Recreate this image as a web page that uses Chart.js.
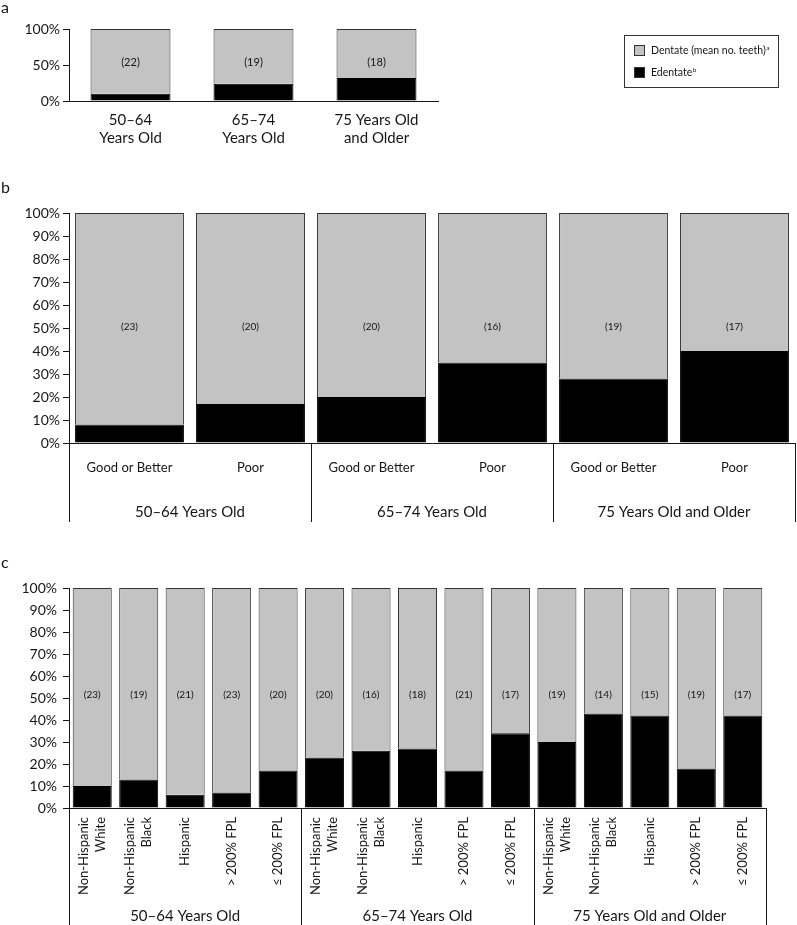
<!DOCTYPE html>
<html>
<head>
<meta charset="utf-8">
<script src="https://cdn.jsdelivr.net/npm/chart.js@4.4.1/dist/chart.umd.min.js"></script>
<style>
  body { margin: 0; background: #fff; }
  .panel { position: absolute; left: 0; }
</style>
</head>
<body>
<div class="panel" style="top:0"><canvas id="chart-a" width="797" height="160"></canvas></div>
<div class="panel" style="top:170px"><canvas id="chart-b" width="797" height="360"></canvas></div>
<div class="panel" style="top:530px"><canvas id="chart-c" width="797" height="395"></canvas></div>
<script>
// --- data ---
const ageGroups = ['50–64 Years Old', '65–74 Years Old', '75 Years Old and Older'];
const legendLabels = ['Dentate (mean no. teeth)', 'Edentate'];
const legendNotes = ['a', 'b'];

// panel a: by age
const ageLabelsA = [['50–64', 'Years Old'], ['65–74', 'Years Old'], ['75 Years Old', 'and Older']];
const edentateA = [10, 24, 32];
const dentateA = [90, 76, 68];
const teethA = [22, 19, 18];

// panel b: by self-rated health within age group
const healthLabels = ['Good or Better', 'Poor'];
const edentateB = [8, 17, 20, 35, 28, 40];
const dentateB = [92, 83, 80, 65, 72, 60];
const teethB = [23, 20, 20, 16, 19, 17];

// panel c: by race/ethnicity and income within age group
const groupLabelsC = [['Non-Hispanic', 'White'], ['Non-Hispanic', 'Black'], ['Hispanic'], ['> 200% FPL'], ['≤ 200% FPL']];
const edentateC = [10, 13, 6, 7, 17, 23, 26, 27, 17, 34, 30, 43, 42, 18, 42];
const dentateC = [90, 87, 94, 93, 83, 77, 74, 73, 83, 66, 70, 57, 58, 82, 58];
const teethC = [23, 19, 21, 23, 20, 20, 16, 18, 21, 17, 19, 14, 15, 19, 17];

const FONT = 'Lato, "Open Sans", sans-serif';
const ink = '#161616';
const gray = '#c3c3c3';
const edge = '#333333';

function datasets(edentate, dentate) {
    return [
        { label: legendLabels[1], data: edentate, backgroundColor: '#000', borderColor: '#000', borderWidth: 1 },
        { label: legendLabels[0], data: dentate, backgroundColor: gray, borderColor: edge, borderWidth: 1 }
    ];
}

function baseOptions(p) {
    return {
        responsive: false,
        animation: false,
        events: [],
        layout: { padding: { left: 0, top: p.top, right: p.right, bottom: 0 } },
        plugins: { legend: { display: false }, tooltip: { enabled: false } },
        datasets: { bar: { categoryPercentage: 1, barPercentage: p.bar } },
        scales: {
            x: {
                stacked: true,
                ticks: { display: false },
                grid: { display: false },
                border: { display: true, color: ink, width: 1 },
                afterFit: s => { s.height = p.xHeight; }
            },
            y: {
                stacked: true,
                min: 0, max: 100,
                ticks: { stepSize: p.step, padding: p.tickPad, color: ink, font: { family: FONT, size: 14 }, callback: v => v + '%' },
                grid: { drawOnChartArea: false, drawTicks: true, tickLength: 6, color: ink },
                border: { display: true, color: ink, width: 1 },
                afterFit: s => { s.width = 69; }
            }
        }
    };
}

function drawTeeth(chart, teeth, at, size) {
    const ctx = chart.ctx, x = chart.scales.x, y = chart.scales.y;
    ctx.font = size + 'px ' + FONT;
    ctx.textAlign = 'center';
    ctx.textBaseline = 'middle';
    teeth.forEach((t, i) => ctx.fillText('(' + t + ')', x.getPixelForValue(i), y.getPixelForValue(at)));
}

function drawLetter(ctx, letter, y) {
    ctx.font = '16px ' + FONT;
    ctx.textAlign = 'left';
    ctx.textBaseline = 'alphabetic';
    ctx.fillText(letter, 1, y);
}

// vertical separators and group names under the axis
function drawGroups(chart, perGroup, lineBottom, textY) {
    const ctx = chart.ctx, x = chart.scales.x, area = chart.chartArea;
    const n = chart.data.labels.length;
    const edges = [area.left];
    for (let i = perGroup; i < n; i += perGroup) {
        edges.push((x.getPixelForValue(i - 1) + x.getPixelForValue(i)) / 2);
    }
    edges.push(area.right);
    ctx.strokeStyle = ink;
    ctx.lineWidth = 1;
    edges.forEach(e => {
        const px = Math.round(e) + 0.5;
        ctx.beginPath();
        ctx.moveTo(px, area.bottom);
        ctx.lineTo(px, lineBottom);
        ctx.stroke();
    });
    ctx.font = '15px ' + FONT;
    ctx.textAlign = 'center';
    ctx.textBaseline = 'alphabetic';
    ageGroups.forEach((g, k) => ctx.fillText(g, (edges[k] + edges[k + 1]) / 2, textY));
}

const panelA = {
    id: 'panelA',
    afterDraw(chart) {
        const ctx = chart.ctx, x = chart.scales.x;
        ctx.save();
        ctx.fillStyle = ink;
        drawLetter(ctx, 'a', 13);
        drawTeeth(chart, teethA, 54, 11);
        ctx.font = '15px ' + FONT;
        ctx.textAlign = 'center';
        ctx.textBaseline = 'alphabetic';
        ageLabelsA.forEach((lines, i) => {
            lines.forEach((l, j) => ctx.fillText(l, x.getPixelForValue(i), 125 + j * 18));
        });
        // legend box
        ctx.strokeStyle = edge;
        ctx.lineWidth = 1;
        ctx.strokeRect(624.5, 35.5, 154, 52);
        const swatches = [gray, '#000'];
        [0, 1].forEach(k => {
            const top = 45.5 + k * 22;
            ctx.fillStyle = swatches[k];
            ctx.fillRect(634.5, top, 10, 10);
            ctx.strokeRect(634.5, top, 10, 10);
            ctx.fillStyle = ink;
            ctx.font = '10.5px ' + FONT;
            ctx.textAlign = 'left';
            ctx.textBaseline = 'middle';
            ctx.fillText(legendLabels[k], 651, top + 5.5);
            const w = ctx.measureText(legendLabels[k]).width;
            ctx.font = '6.5px ' + FONT;
            ctx.fillText(legendNotes[k], 651 + w + 0.5, top + 2);
        });
        ctx.restore();
    }
};

const panelB = {
    id: 'panelB',
    afterDraw(chart) {
        const ctx = chart.ctx, x = chart.scales.x;
        ctx.save();
        ctx.fillStyle = ink;
        drawLetter(ctx, 'b', 23);
        drawTeeth(chart, teethB, 50.5, 10);
        ctx.font = '13px ' + FONT;
        ctx.textAlign = 'center';
        ctx.textBaseline = 'alphabetic';
        chart.data.labels.forEach((l, i) => ctx.fillText(l, x.getPixelForValue(i), 302));
        drawGroups(chart, 2, 352, 347);
        ctx.restore();
    }
};

const panelC = {
    id: 'panelC',
    afterDraw(chart) {
        const ctx = chart.ctx, x = chart.scales.x;
        ctx.save();
        ctx.fillStyle = ink;
        drawLetter(ctx, 'c', 38);
        drawTeeth(chart, teethC, 51.5, 10);
        ctx.font = '13px ' + FONT;
        ctx.textAlign = 'right';
        ctx.textBaseline = 'middle';
        chart.data.labels.forEach((lines, i) => {
            const cx = x.getPixelForValue(i);
            lines.forEach((l, j) => {
                const off = (j - (lines.length - 1) / 2) * 17;
                ctx.save();
                ctx.translate(cx + off, 287);
                ctx.rotate(-Math.PI / 2);
                ctx.fillText(l, 0, 0);
                ctx.restore();
            });
        });
        drawGroups(chart, 5, 395, 391);
        ctx.restore();
    }
};

new Chart(document.getElementById('chart-a'), {
    type: 'bar',
    data: { labels: ageLabelsA.map(l => l.join(' ')), datasets: datasets(edentateA, dentateA) },
    options: baseOptions({ top: 29, right: 359, bar: 0.65, xHeight: 59, step: 50, tickPad: 3 }),
    plugins: [panelA]
});

new Chart(document.getElementById('chart-b'), {
    type: 'bar',
    data: { labels: ageGroups.flatMap(() => healthLabels), datasets: datasets(edentateB, dentateB) },
    options: baseOptions({ top: 43, right: 2, bar: 0.9, xHeight: 87, step: 10, tickPad: 3 }),
    plugins: [panelB]
});

new Chart(document.getElementById('chart-c'), {
    type: 'bar',
    data: { labels: ageGroups.flatMap(() => groupLabelsC), datasets: datasets(edentateC, dentateC) },
    options: baseOptions({ top: 58, right: 31, bar: 0.84, xHeight: 117, step: 10, tickPad: 6 }),
    plugins: [panelC]
});
</script>
</body>
</html>
